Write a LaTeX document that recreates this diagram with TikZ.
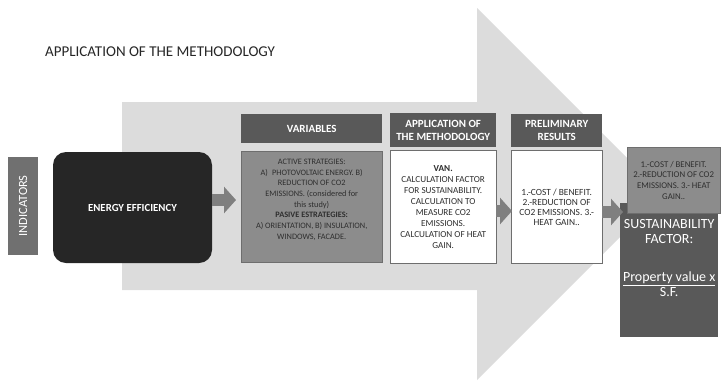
\documentclass[tikz,border=0pt]{standalone}
\usepackage{fontspec}
\setmainfont{Carlito}
\usepackage{tikz}
\usetikzlibrary{positioning,arrows.meta}

\definecolor{bggray}{HTML}{DCDCDC}
\definecolor{headgray}{HTML}{595959}
\definecolor{midgray}{HTML}{8C8C8C}
\definecolor{darkbox}{HTML}{262626}
\definecolor{indgray}{HTML}{707070}
\definecolor{bordergray}{HTML}{6E6E6E}
\definecolor{arrowgray}{HTML}{7F7F7F}
\definecolor{textgray}{HTML}{2E2E2E}

\begin{document}
\begin{tikzpicture}[x=1pt, y=-1pt,
    head/.style={rectangle, fill=headgray, text=white, align=center, inner sep=0pt, font=\fontsize{11}{12.7}\selectfont\bfseries},
    body/.style={rectangle, draw=bordergray, align=center, inner sep=0pt, text=textgray, font=\fontsize{9.2}{11}\selectfont},
    fatarrow/.style={draw=arrowgray, line width=12pt, -{Triangle[width=26pt,length=12pt]}}]
    \useasboundingbox (0,0) rectangle (721,381);

    % Background arrow
    \fill[bggray] (122,102) -- (477,102) -- (477,8) -- (663,194) -- (477,380) -- (477,290) -- (122,290) -- cycle;

    % Title
    \node (title) [anchor=west, text=darkbox, font=\fontsize{15}{17}\selectfont, inner sep=0pt] at (45,52) {APPLICATION OF THE METHODOLOGY};

    % Nodes
    \node (ind) [rectangle, fill=indgray, text=white, rotate=90, minimum width=98pt, minimum height=30pt, inner sep=0pt, font=\fontsize{12.5}{14}\selectfont] at (23,206) {INDICATORS};
    \node (ee) [rectangle, fill=darkbox, text=white, rounded corners=13pt, minimum width=159pt, minimum height=111pt, font=\fontsize{10.8}{12}\selectfont\bfseries] at (132.5,207.5) {ENERGY EFFICIENCY};

    % Variables
    \node (vhead) [head, anchor=north west, minimum width=141pt, minimum height=29pt] at (241,114) {VARIABLES};
    \node (vbody) [body, fill=midgray, below=8pt of vhead, minimum width=141pt, minimum height=111pt, font=\fontsize{8.3}{10.7}\selectfont] {ACTIVE STRATEGIES:\\
        A)\enspace PHOTOVOLTAIC ENERGY. B)\\
        REDUCTION OF CO2\\
        EMISSIONS. (considered for\\
        this study)\\
        \textbf{PASIVE ESTRATEGIES:}\\
        A) ORIENTATION, B) INSULATION,\\
        WINDOWS, FACADE.\\[5pt]};

    % Application of the methodology
    \node (ahead) [head, anchor=north west, minimum width=106pt, minimum height=34pt] at (390,113) {APPLICATION OF\\THE METHODOLOGY};
    \node (abody) [body, fill=white, below=3pt of ahead, minimum width=106pt, minimum height=113pt] {\textbf{VAN.}\\
        CALCULATION FACTOR\\
        FOR SUSTAINABILITY.\\
        CALCULATION TO\\
        MEASURE CO2\\
        EMISSIONS.\\
        CALCULATION OF HEAT\\
        GAIN.};

    % Preliminary results
    \node (phead) [head, anchor=north west, minimum width=91pt, minimum height=33pt] at (511,114) {PRELIMINARY\\RESULTS};
    \node (pbody) [body, fill=white, below=3pt of phead, minimum width=91pt, minimum height=113pt, font=\fontsize{9.4}{10}\selectfont] {1.-COST / BENEFIT.\\
        2.-REDUCTION OF\\
        CO2 EMISSIONS. 3.-\\
        HEAT GAIN..};

    % Sustainability factor
    \node (sf) [rectangle, fill=headgray, anchor=north west, inner sep=0pt, text=white, font=\fontsize{14}{15}\selectfont] at (620,203) {\parbox[c][134pt][t]{98pt}{\centering\vspace*{16pt}SUSTAINABILITY\\
        FACTOR:\\[23pt]
        \underline{Property value x}\\
        S.F.}};
    \node (cb) [body, fill=midgray, anchor=north west, minimum width=93pt, minimum height=66pt, font=\fontsize{8.8}{10.7}\selectfont] at (627,147) {1.-COST / BENEFIT.\\
        2.-REDUCTION OF CO2\\
        EMISSIONS. 3.- HEAT\\
        GAIN..};

    % Arrows
    \draw [fatarrow] (ee.east |- 0,200) -- ([xshift=-5pt]vbody.west |- 0,200);
    \draw [fatarrow] (abody.east |- 0,211) -- ([xshift=1pt]pbody.west |- 0,211);
    \draw [fatarrow] (pbody.east |- 0,212) -- ([xshift=3pt]sf.west |- 0,212);
\end{tikzpicture}
\end{document}
